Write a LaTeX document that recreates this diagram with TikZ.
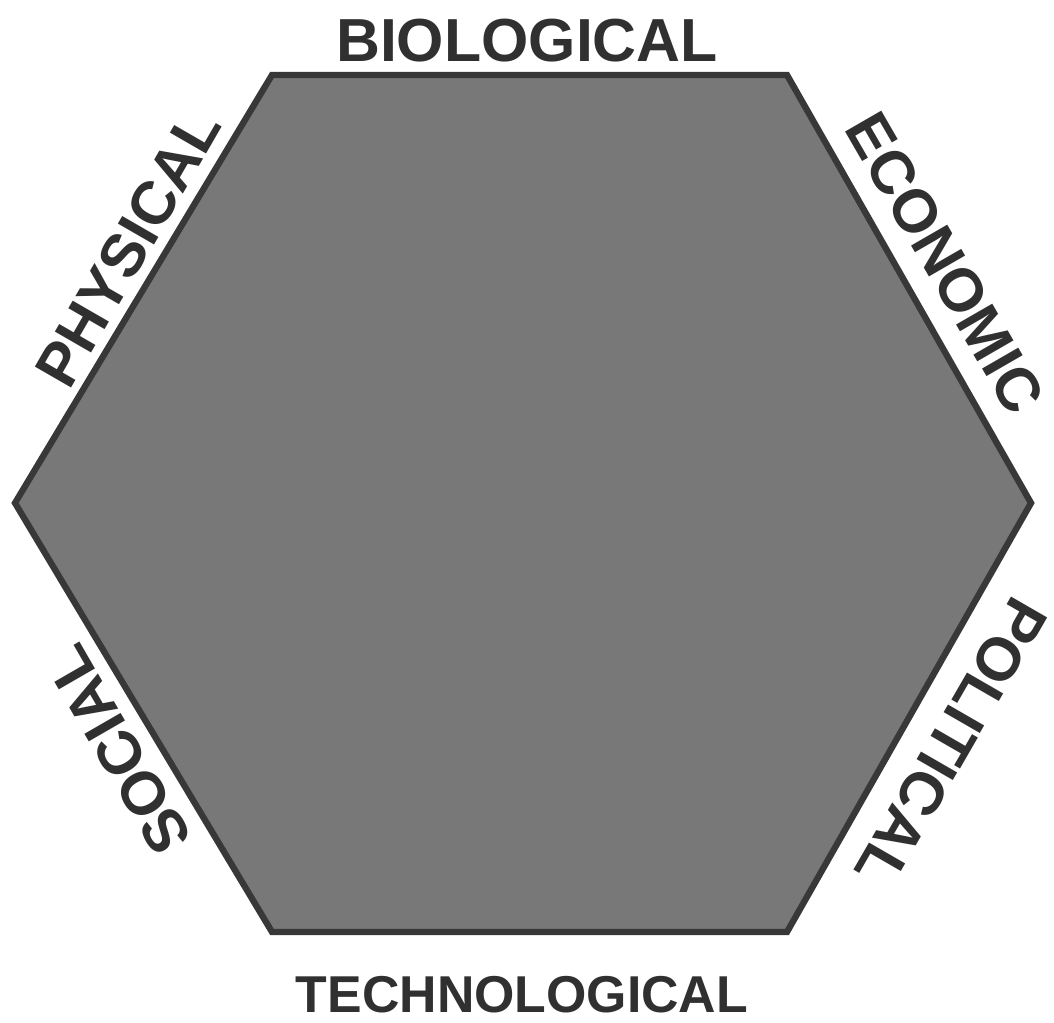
\documentclass[tikz,border=0pt]{standalone}
\usepackage{fontspec}
\setmainfont{Liberation Sans}
\usepackage{xcolor}
\usetikzlibrary{positioning, calc}
\definecolor{hexFill}{HTML}{787878}
\definecolor{hexEdge}{HTML}{383838}
\definecolor{labelInk}{HTML}{303030}

\begin{document}
\begin{tikzpicture}[
  x=0.02cm, y=0.02cm,
  hexagon/.style={draw=hexEdge, fill=hexFill, line width=3.6pt, line join=miter},
  sidelabel/.style={text=labelInk, inner sep=0pt,
                    font=\fontsize{34.6}{40}\selectfont\bfseries},
  baselabel/.style={sidelabel, font=\fontsize{29.5}{34}\selectfont\bfseries},
]
\useasboundingbox (0,0) rectangle (1054,1023);

% corners of the hexagon, clockwise from top left
\coordinate (tl) at (272,948);
\coordinate (tr) at (787,948);
\coordinate (r)  at (1031,520);
\coordinate (br) at (787,91);
\coordinate (bl) at (272,91);
\coordinate (l)  at (15,520);

\draw[hexagon] (tl) -- (tr) -- (r) -- (br) -- (bl) -- (l) -- cycle;

% labels round the sides
\node[sidelabel] (bio) at (527,982) {BIOLOGICAL};
\node[sidelabel, rotate=-60] (eco) at (945,760) {ECONOMIC};
\node[sidelabel, rotate=-120] (pol) at (951,280) {POLITICAL};
\node[baselabel] (tech) at (522,28) {TECHNOLOGICAL};
\node[sidelabel, rotate=120] (soc) at (118,273) {SOCIAL};
\node[sidelabel, rotate=60] (phys) at (128,775) {PHYSICAL};
\end{tikzpicture}
\end{document}
